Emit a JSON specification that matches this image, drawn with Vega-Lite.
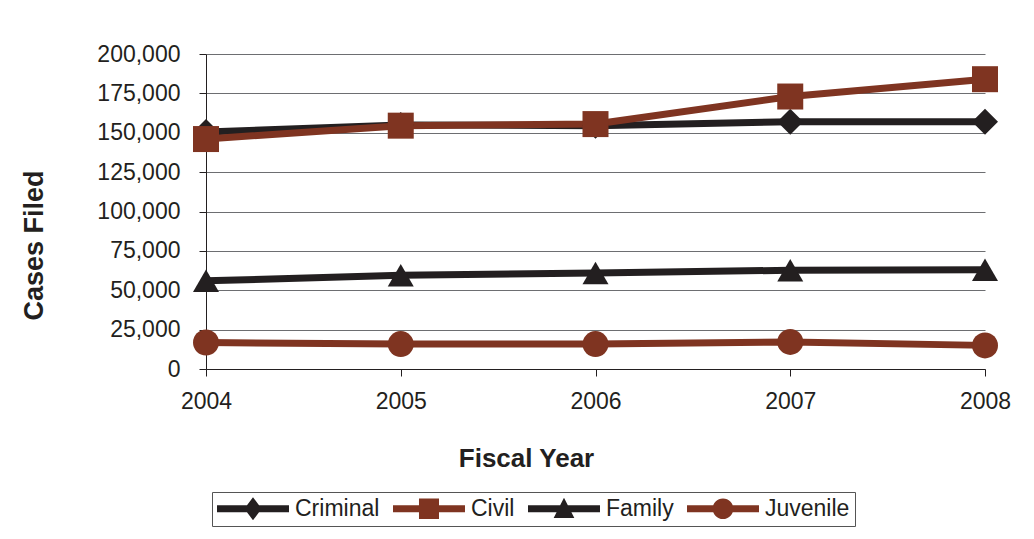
{
  "$schema": "https://vega.github.io/schema/vega-lite/v6.json",
  "width": 779,
  "height": 315,
  "autosize": "none",
  "padding": {"left": 206, "top": 54, "right": 49, "bottom": 170},
  "background": "white",
  "config": {
    "view": {"stroke": null},
    "font": "Liberation Sans",
    "axis": {"labelFont": "Liberation Sans", "titleFont": "Liberation Sans", "labelColor": "#231f20", "titleColor": "#231f20"}
  },
  "data": {
    "values": [
      {"year": 2004, "series": "Criminal", "cases": 150500},
      {"year": 2005, "series": "Criminal", "cases": 155000},
      {"year": 2006, "series": "Criminal", "cases": 154500},
      {"year": 2007, "series": "Criminal", "cases": 157000},
      {"year": 2008, "series": "Criminal", "cases": 157000},
      {"year": 2004, "series": "Civil", "cases": 146000},
      {"year": 2005, "series": "Civil", "cases": 154500},
      {"year": 2006, "series": "Civil", "cases": 155500},
      {"year": 2007, "series": "Civil", "cases": 173000},
      {"year": 2008, "series": "Civil", "cases": 184000},
      {"year": 2004, "series": "Family", "cases": 56000},
      {"year": 2005, "series": "Family", "cases": 59500},
      {"year": 2006, "series": "Family", "cases": 61000},
      {"year": 2007, "series": "Family", "cases": 62700},
      {"year": 2008, "series": "Family", "cases": 63000},
      {"year": 2004, "series": "Juvenile", "cases": 16800},
      {"year": 2005, "series": "Juvenile", "cases": 15800},
      {"year": 2006, "series": "Juvenile", "cases": 15800},
      {"year": 2007, "series": "Juvenile", "cases": 17200},
      {"year": 2008, "series": "Juvenile", "cases": 15000}
    ]
  },
  "encoding": {
    "x": {
      "field": "year", "type": "quantitative",
      "scale": {"domain": [2004, 2008], "nice": false, "zero": false},
      "axis": {
        "values": [2004, 2005, 2006, 2007, 2008], "format": "d",
        "grid": false, "domainColor": "#231f20", "domainWidth": 1,
        "tickColor": "#231f20", "tickSize": 7, "tickWidth": 1,
        "labelFontSize": 23, "labelPadding": 14, "labelFlush": false,
        "title": "Fiscal Year", "titleFontSize": 26, "titleFontWeight": "bold",
        "titleX": 320, "titleY": 97, "titleBaseline": "alphabetic", "titleAlign": "center"
      }
    },
    "y": {
      "field": "cases", "type": "quantitative",
      "scale": {"domain": [0, 200000], "nice": false},
      "axis": {
        "values": [0, 25000, 50000, 75000, 100000, 125000, 150000, 175000, 200000],
        "format": ",.0f", "grid": true, "gridColor": "#6d6e71", "gridWidth": 1,
        "domainColor": "#231f20", "domainWidth": 1,
        "tickColor": "#231f20", "tickSize": 7, "tickWidth": 1,
        "labelFontSize": 23, "labelPadding": 19,
        "title": "Cases Filed", "titleFontSize": 27, "titleFontWeight": "bold",
        "titlePadding": 48, "titleY": 191
      }
    }
  },
  "resolve": {"scale": {"shape": "independent"}, "legend": {"color": "independent", "shape": "independent"}},
  "layer": [
    {
      "mark": {"type": "line", "strokeWidth": 7, "strokeJoin": "round"},
      "encoding": {
        "color": {
          "field": "series", "type": "nominal",
          "scale": {"domain": ["Criminal", "Civil", "Family", "Juvenile"], "range": ["#231f20", "#7f3421", "#231f20", "#7f3421"]},
          "legend": null
        }
      }
    },
    {
      "mark": {"type": "point", "filled": true, "opacity": 1},
      "encoding": {
        "color": {"field": "series", "type": "nominal", "legend": null},
        "shape": {
          "field": "series", "type": "nominal",
          "scale": {"domain": ["Criminal", "Civil", "Family", "Juvenile"], "range": ["diamond", "square", "triangle-up", "circle"]},
          "legend": null
        },
        "size": {
          "field": "series", "type": "nominal",
          "scale": {"domain": ["Criminal", "Civil", "Family", "Juvenile"], "range": [676, 676, 600, 552]},
          "legend": null
        }
      }
    },
    {
      "transform": [{"filter": "false"}],
      "mark": {"type": "point", "filled": true, "opacity": 1, "strokeWidth": 0},
      "encoding": {
        "color": {
          "field": "series", "type": "nominal",
          "legend": {
            "title": null, "orient": "none", "direction": "horizontal",
            "legendX": 6, "legendY": 438,
            "strokeColor": "#555555", "padding": 5, "fillColor": "white",
            "columnPadding": 13, "labelOffset": 55,
            "symbolSize": 529, "symbolStrokeWidth": 0, "symbolOpacity": 1,
            "labelFontSize": 23, "labelFont": "Liberation Sans", "labelColor": "#231f20"
          }
        },
        "shape": {
          "field": "series", "type": "nominal",
          "scale": {"domain": ["Criminal", "Civil", "Family", "Juvenile"], "range": [
            "M-1,-0.3H5.26V0.3H-1Z M2.13,-1L2.88,0L2.13,1L1.38,0Z",
            "M-1,-0.3H5.26V0.3H-1Z M1.26,-0.9H3.0V0.9H1.26Z",
            "M-1,-0.3H5.26V0.3H-1Z M2.13,-0.95L3.03,0.8H1.23Z",
            "M-1,-0.3H5.26V0.3H-1Z M1.23,0A0.9,0.9 0 1,1 3.03,0A0.9,0.9 0 1,1 1.23,0Z"
          ]},
          "legend": {
            "title": null, "orient": "none", "direction": "horizontal",
            "legendX": 6, "legendY": 438,
            "strokeColor": "#555555", "padding": 5, "fillColor": "white",
            "columnPadding": 13, "labelOffset": 55,
            "symbolSize": 529, "symbolStrokeWidth": 0, "symbolOpacity": 1,
            "labelFontSize": 23, "labelFont": "Liberation Sans", "labelColor": "#231f20"
          }
        }
      }
    }
  ]
}
